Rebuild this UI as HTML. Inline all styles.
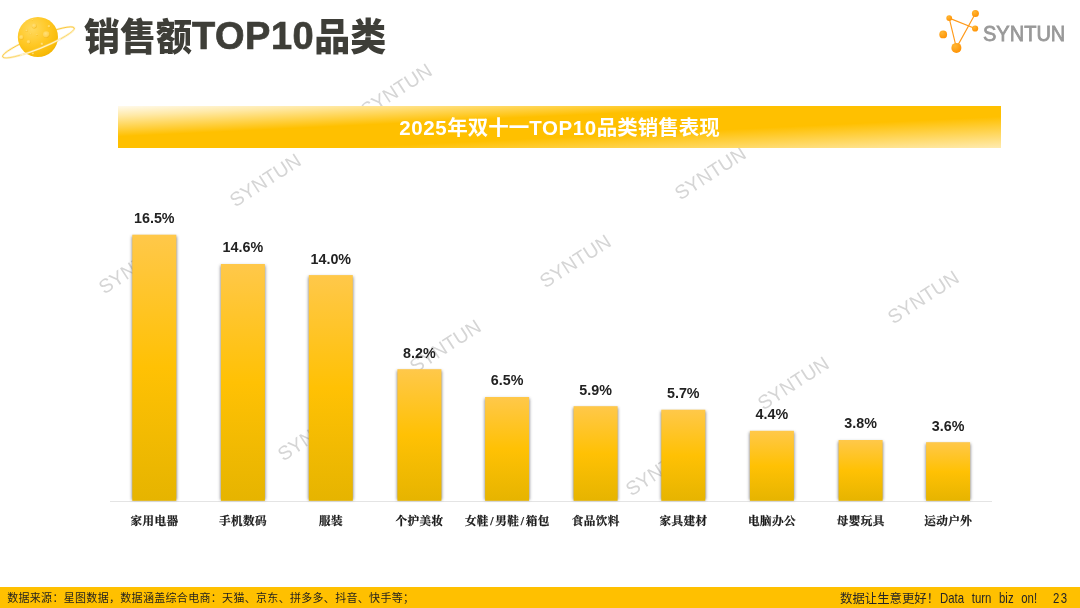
<!DOCTYPE html>
<html lang="zh-CN">
<head>
<meta charset="utf-8">
<title>销售额TOP10品类</title>
<style>
html,body{margin:0;padding:0;background:#fff;}
body{width:1080px;height:608px;position:relative;overflow:hidden;font-family:"Liberation Sans","Noto Sans CJK SC",sans-serif;}
.abs{position:absolute;}
.wm{position:absolute;width:120px;height:24px;margin-left:-60px;margin-top:-12px;line-height:24px;text-align:center;font-size:19.6px;letter-spacing:-0.05px;color:#d5d5d5;transform:rotate(-33deg);font-weight:400;white-space:nowrap;}
.title{position:absolute;left:84px;top:7.5px;height:56px;line-height:56px;font-size:36px;font-weight:900;color:#3e3e38;white-space:nowrap;}
.lt{-webkit-text-stroke:0.7px #3e3e38;font-size:38px;letter-spacing:0.5px;}
.cj{display:inline-block;transform:scaleY(1.05);transform-origin:50% 50%;}
.hbar{position:absolute;left:118px;top:106px;width:883px;height:42px;background:linear-gradient(177.3deg,#fffaec 0%,#ffe9a6 12%,#ffc000 36.5%,#ffc000 62.5%,#ffebb0 100%);}
.htext{position:absolute;left:118px;top:107px;width:883px;height:42px;line-height:42px;text-align:center;color:#fff;font-weight:700;font-size:20.5px;white-space:nowrap;}
.htext span{letter-spacing:0.6px;}
.val{position:absolute;width:80px;margin-left:-40px;text-align:center;font-size:14.3px;font-weight:700;color:#222;height:16px;line-height:16px;white-space:nowrap;}
.cat{position:absolute;width:110px;margin-left:-55px;text-align:center;font-family:"Liberation Serif","Noto Serif CJK SC",serif;font-weight:700;font-size:11.6px;letter-spacing:0.4px;text-indent:0.4px;color:#1a1a1a;-webkit-text-stroke:0.25px #1a1a1a;top:513.3px;height:18px;line-height:18px;white-space:nowrap;}
.cat i{font-style:normal;margin:0 1.4px;}
.axis{position:absolute;left:110px;top:501px;width:882px;height:1px;background:#e4e4e4;}
.foot{position:absolute;left:0;top:587px;width:1080px;height:21px;background:#ffc000;}
.fl{position:absolute;left:7.2px;top:588px;height:21px;line-height:21px;font-size:11px;color:#1f1f1f;white-space:nowrap;letter-spacing:0.31px;}
.fr{position:absolute;left:840px;top:587.8px;height:21px;line-height:21px;font-size:12.4px;color:#262626;white-space:nowrap;}
.fr span{display:inline-block;font-size:13.9px;transform:scaleX(0.82);transform-origin:0 50%;word-spacing:5.5px;margin-left:0.8px;}
.pg{position:absolute;left:1053.2px;top:587.8px;height:21px;line-height:21px;font-size:13.9px;color:#262626;white-space:nowrap;letter-spacing:1.6px;transform:scaleX(0.82);transform-origin:0 50%;}
.logot{position:absolute;left:983.4px;top:21.1px;height:26px;line-height:26px;font-size:21.3px;color:#999;white-space:nowrap;transform-origin:0 50%;transform:scaleX(0.94);-webkit-text-stroke:0.8px #999;}
</style>
</head>
<body>
<div class="wm" style="left:396.0px;top:90.0px">SYNTUN</div>
<div class="wm" style="left:265.0px;top:180.0px">SYNTUN</div>
<div class="wm" style="left:133.7px;top:267.2px">SYNTUN</div>
<div class="wm" style="left:710.3px;top:173.4px">SYNTUN</div>
<div class="wm" style="left:574.7px;top:260.6px">SYNTUN</div>
<div class="wm" style="left:444.6px;top:345.6px">SYNTUN</div>
<div class="wm" style="left:312.9px;top:433.7px">SYNTUN</div>
<div class="wm" style="left:923.0px;top:297.4px">SYNTUN</div>
<div class="wm" style="left:792.6px;top:383.0px">SYNTUN</div>
<div class="wm" style="left:660.8px;top:468.5px">SYNTUN</div>
<svg class="abs" style="left:0;top:0" width="90" height="76" viewBox="0 0 90 76">
<defs>
<radialGradient id="pg" cx="0.36" cy="0.3" r="0.8">
<stop offset="0" stop-color="#ffd95f"/><stop offset="0.5" stop-color="#ffc825"/><stop offset="0.85" stop-color="#f8bb08"/><stop offset="1" stop-color="#eeb000"/>
</radialGradient>
<radialGradient id="cr" cx="0.4" cy="0.35" r="0.65">
<stop offset="0" stop-color="#ffe07a"/><stop offset="0.7" stop-color="#ffd250"/><stop offset="1" stop-color="#f2b61a"/>
</radialGradient>
</defs>
<g transform="rotate(-22 38.45 42.4)">
<ellipse cx="38.45" cy="42.4" rx="38.6" ry="6.1" fill="none" stroke="#fdd663" stroke-width="2.4" opacity="0.3"/>
<ellipse cx="38.45" cy="42.4" rx="38.6" ry="6.1" fill="none" stroke="#fac22a" stroke-width="0.8"/>
</g>
<circle cx="37.9" cy="37" r="20.1" fill="url(#pg)"/>
<g fill="url(#cr)">
<circle cx="34.2" cy="26" r="2.5"/><circle cx="46.3" cy="34.6" r="3.4"/><circle cx="21.4" cy="37.4" r="2.3"/><circle cx="28.6" cy="42" r="2"/><circle cx="49" cy="26.4" r="1.4"/><circle cx="26.6" cy="30.6" r="1.2"/><circle cx="33" cy="53.6" r="1.2"/><circle cx="42" cy="44" r="1.5"/><circle cx="37" cy="34.8" r="0.9"/><circle cx="30.5" cy="34" r="0.8"/><circle cx="32.3" cy="19.6" r="0.8"/>
</g>
<g transform="rotate(-22 38.45 42.4)">
<path d="M 0.44 43.46 A 38.6 6.1 0 0 0 76.46 43.46" fill="none" stroke="#fff3c9" stroke-width="2.2" opacity="0.35"/>
<path d="M 16.31 47.4 A 38.6 6.1 0 0 0 60.59 47.4" fill="none" stroke="#fff6d8" stroke-width="1" opacity="0.95"/>
</g>
</svg>
<div class="title"><span class="cj">销售额</span><span class="lt">TOP10</span><span class="cj">品类</span></div>
<svg class="abs" style="left:930px;top:0" width="60" height="60" viewBox="930 0 60 60">
<defs><radialGradient id="lg" cx="0.35" cy="0.3" r="0.8"><stop offset="0" stop-color="#ffb733"/><stop offset="1" stop-color="#ff8f00"/></radialGradient></defs>
<g stroke="#ff9a1a" stroke-width="1.15" stroke-linecap="round">
<line x1="949.2" y1="18.1" x2="975.1" y2="28.5"/>
<line x1="949.2" y1="18.1" x2="956.4" y2="47.9"/>
<line x1="975.4" y1="13.5" x2="956.4" y2="47.9"/>
</g>
<g fill="url(#lg)">
<circle cx="949.2" cy="18.1" r="2.9"/>
<circle cx="975.4" cy="13.5" r="3.5"/>
<circle cx="975.1" cy="28.5" r="3.1"/>
<circle cx="943.2" cy="34.4" r="3.9"/>
<circle cx="956.4" cy="47.9" r="5"/>
</g>
</svg>
<div class="logot">SYNTUN</div>
<div class="hbar"></div>
<div class="htext"><span>2025</span>年双十一<span>TOP10</span>品类销售表现</div>
<div class="axis"></div>
<svg class="abs" style="left:0;top:200px" width="1080" height="320" viewBox="0 200 1080 320">
<defs>
<linearGradient id="bg" x1="0" y1="0" x2="0" y2="1"><stop offset="0" stop-color="#ffc84a"/><stop offset="0.5" stop-color="#ffc104"/><stop offset="1" stop-color="#e6b400"/></linearGradient>
<filter id="sh" x="-20%" y="-5%" width="140%" height="110%"><feGaussianBlur stdDeviation="1.35"/></filter>
</defs>
<g fill="#44474f" opacity="0.62" filter="url(#sh)">
<rect x="131.80" y="236.2" width="45.0" height="263.8"/>
<rect x="220.40" y="265.5" width="45.0" height="234.5"/>
<rect x="308.30" y="276.6" width="45.0" height="223.4"/>
<rect x="396.90" y="370.7" width="45.0" height="129.3"/>
<rect x="484.60" y="398.5" width="45.0" height="101.5"/>
<rect x="573.10" y="407.7" width="45.0" height="92.3"/>
<rect x="660.80" y="411.2" width="45.0" height="88.8"/>
<rect x="749.40" y="432.3" width="45.0" height="67.7"/>
<rect x="838.10" y="441.5" width="45.0" height="58.5"/>
<rect x="925.60" y="443.7" width="45.0" height="56.3"/>
</g>
<g fill="url(#bg)">
<rect x="132.30" y="234.7" width="44.0" height="266.1"/>
<rect x="220.90" y="264.0" width="44.0" height="236.8"/>
<rect x="308.80" y="275.1" width="44.0" height="225.7"/>
<rect x="397.40" y="369.2" width="44.0" height="131.6"/>
<rect x="485.10" y="397.0" width="44.0" height="103.8"/>
<rect x="573.60" y="406.2" width="44.0" height="94.6"/>
<rect x="661.30" y="409.7" width="44.0" height="91.1"/>
<rect x="749.90" y="430.8" width="44.0" height="70.0"/>
<rect x="838.60" y="440.0" width="44.0" height="60.8"/>
<rect x="926.10" y="442.2" width="44.0" height="58.6"/>
</g>
</svg>
<div class="val" style="left:154.3px;top:210.1px">16.5%</div>
<div class="cat" style="left:154.3px">家用电器</div>
<div class="val" style="left:242.9px;top:239.4px">14.6%</div>
<div class="cat" style="left:242.9px">手机数码</div>
<div class="val" style="left:330.8px;top:250.5px">14.0%</div>
<div class="cat" style="left:330.8px">服装</div>
<div class="val" style="left:419.4px;top:344.6px">8.2%</div>
<div class="cat" style="left:419.4px">个护美妆</div>
<div class="val" style="left:507.1px;top:372.4px">6.5%</div>
<div class="cat" style="left:507.1px">女鞋<i>/</i>男鞋<i>/</i>箱包</div>
<div class="val" style="left:595.6px;top:381.6px">5.9%</div>
<div class="cat" style="left:595.6px">食品饮料</div>
<div class="val" style="left:683.3px;top:385.1px">5.7%</div>
<div class="cat" style="left:683.3px">家具建材</div>
<div class="val" style="left:771.9px;top:406.2px">4.4%</div>
<div class="cat" style="left:771.9px">电脑办公</div>
<div class="val" style="left:860.6px;top:415.4px">3.8%</div>
<div class="cat" style="left:860.6px">母婴玩具</div>
<div class="val" style="left:948.1px;top:417.6px">3.6%</div>
<div class="cat" style="left:948.1px">运动户外</div>
<div class="foot"></div>
<div class="fl">数据来源：星图数据，数据涵盖综合电商：天猫、京东、拼多多、抖音、快手等；</div>
<div class="fr">数据让生意更好！<span>Data turn biz on!</span></div>
<div class="pg">23</div>
</body>
</html>
